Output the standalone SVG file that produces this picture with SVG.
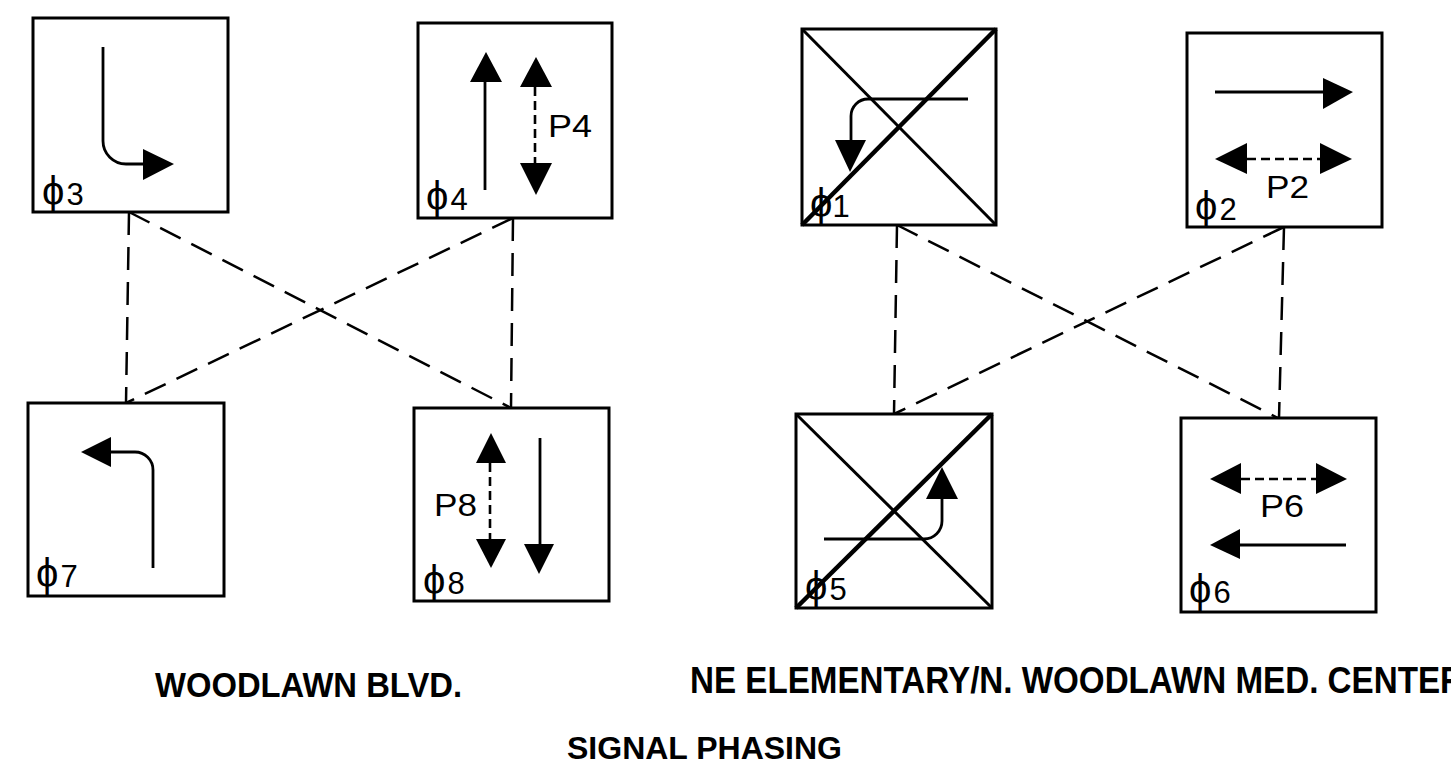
<svg xmlns="http://www.w3.org/2000/svg" width="1451" height="764" viewBox="0 0 1451 764">
<style>
.box{fill:#fff;stroke:#000;stroke-width:3}
.x1{stroke:#000;stroke-width:3}
.x2{stroke:#000;stroke-width:4.5}
.sh{fill:none;stroke:#000;stroke-width:2.8}
.dsh{fill:none;stroke:#000;stroke-width:2.6;stroke-dasharray:9 5}
.hd{fill:#000;stroke:none}
.con{fill:none;stroke:#000;stroke-width:2.5;stroke-dasharray:23 12}
.ph{font-family:"Liberation Sans",Arial,sans-serif;font-size:31px;fill:#000}
.phi{font-size:40px}
.ttl{font-family:"Liberation Sans",Arial,sans-serif;font-weight:bold;fill:#000}
</style>
<rect width="1451" height="764" fill="#fff"/>
<g id="connectors">
<line class="con" x1="129" y1="212" x2="126" y2="403"/>
<line class="con" x1="129" y1="212" x2="511" y2="408"/>
<line class="con" x1="513" y1="218" x2="126" y2="403"/>
<line class="con" x1="513" y1="218" x2="511" y2="408"/>
<line class="con" x1="897" y1="225" x2="894" y2="414"/>
<line class="con" x1="897" y1="225" x2="1278" y2="418"/>
<line class="con" x1="1284" y1="227" x2="894" y2="414"/>
<line class="con" x1="1284" y1="227" x2="1279" y2="418"/>
</g>
<g id="phase3">
<rect class="box" x="33" y="18" width="195" height="194"/>
<path class="sh" d="M103,47 V141 A23,23 0 0 0 126,164 H145"/>
<polygon class="hd" points="143,149 143,180 174,164"/>
<text class="ph" x="42" y="205"><tspan class="phi">ϕ</tspan><tspan dx="2">3</tspan></text>
</g>
<g id="phase4">
<rect class="box" x="418" y="23" width="194" height="195"/>
<line class="sh" x1="485" y1="190" x2="485" y2="80"/>
<polygon class="hd" points="470,82 502,82 486,52"/>
<line class="dsh" x1="535" y1="87" x2="535" y2="163"/>
<polygon class="hd" points="520,87 552,87 536,57"/>
<polygon class="hd" points="520,163 552,163 536,195"/>
<text class="ph" x="548" y="137" textLength="44" lengthAdjust="spacingAndGlyphs">P4</text>
<text class="ph" x="426" y="210"><tspan class="phi">ϕ</tspan><tspan dx="2">4</tspan></text>
</g>
<g id="phase1">
<rect class="box" x="802" y="29" width="194" height="196"/>
<line class="x1" x1="802" y1="29" x2="996" y2="225"/>
<line class="x2" x1="802" y1="225" x2="996" y2="29"/>
<path class="sh" d="M968,99 H868 A17,17 0 0 0 851,116 V142"/>
<polygon class="hd" points="835,140 866,140 850,172"/>
<text class="ph" x="810" y="217"><tspan class="phi">ϕ</tspan><tspan dx="0">1</tspan></text>
</g>
<g id="phase2">
<rect class="box" x="1187" y="33" width="195" height="194"/>
<line class="sh" x1="1215" y1="92" x2="1325" y2="92"/>
<polygon class="hd" points="1323,78 1323,109 1353,92"/>
<line class="dsh" x1="1247" y1="159" x2="1320" y2="159"/>
<polygon class="hd" points="1247,143 1247,174 1215,159"/>
<polygon class="hd" points="1320,143 1320,174 1352,159"/>
<text class="ph" x="1266" y="198" textLength="43" lengthAdjust="spacingAndGlyphs">P2</text>
<text class="ph" x="1195" y="220"><tspan class="phi">ϕ</tspan><tspan dx="2">2</tspan></text>
</g>
<g id="phase7">
<rect class="box" x="28" y="403" width="196" height="193"/>
<path class="sh" d="M153,568 V470 A18,18 0 0 0 135,452 H109"/>
<polygon class="hd" points="111,437 111,467 81,452"/>
<text class="ph" x="36" y="587"><tspan class="phi">ϕ</tspan><tspan dx="2">7</tspan></text>
</g>
<g id="phase8">
<rect class="box" x="414" y="408" width="195" height="193"/>
<line class="dsh" x1="490" y1="463" x2="490" y2="539"/>
<polygon class="hd" points="476,463 506,463 491,433"/>
<polygon class="hd" points="476,539 506,539 491,568"/>
<line class="sh" x1="540" y1="438" x2="540" y2="546"/>
<polygon class="hd" points="524,544 554,544 539,574"/>
<text class="ph" x="434" y="516" textLength="43" lengthAdjust="spacingAndGlyphs">P8</text>
<text class="ph" x="423" y="594"><tspan class="phi">ϕ</tspan><tspan dx="2">8</tspan></text>
</g>
<g id="phase5">
<rect class="box" x="796" y="414" width="196" height="194"/>
<line class="x1" x1="796" y1="414" x2="992" y2="608"/>
<line class="x2" x1="796" y1="608" x2="992" y2="414"/>
<path class="sh" d="M824,539 H924 A18,18 0 0 0 942,521 V497"/>
<polygon class="hd" points="926,499 958,499 942,467"/>
<text class="ph" x="805" y="600"><tspan class="phi">ϕ</tspan><tspan dx="2">5</tspan></text>
</g>
<g id="phase6">
<rect class="box" x="1181" y="418" width="195" height="194"/>
<line class="dsh" x1="1241" y1="479" x2="1316" y2="479"/>
<polygon class="hd" points="1241,463 1241,494 1210,479"/>
<polygon class="hd" points="1316,463 1316,494 1347,479"/>
<text class="ph" x="1260" y="517" textLength="44" lengthAdjust="spacingAndGlyphs">P6</text>
<line class="sh" x1="1238" y1="545" x2="1346" y2="545"/>
<polygon class="hd" points="1240,529 1240,559 1210,545"/>
<text class="ph" x="1189" y="603"><tspan class="phi">ϕ</tspan><tspan dx="2">6</tspan></text>
</g>
<g id="titles">
<text class="ttl" x="155" y="697" font-size="35" textLength="307" lengthAdjust="spacingAndGlyphs">WOODLAWN BLVD.</text>
<text class="ttl" x="690" y="693" font-size="36" textLength="774" lengthAdjust="spacingAndGlyphs">NE ELEMENTARY/N. WOODLAWN MED. CENTER</text>
<text class="ttl" x="567" y="759" font-size="31" textLength="275" lengthAdjust="spacingAndGlyphs">SIGNAL PHASING</text>
</g>
</svg>
